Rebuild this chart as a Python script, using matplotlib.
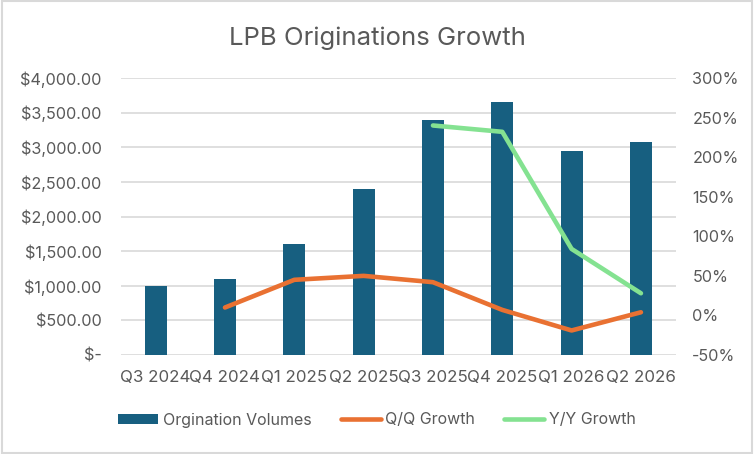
import matplotlib.pyplot as plt
from matplotlib.ticker import FuncFormatter, MultipleLocator
from matplotlib.patches import Rectangle
import numpy as np

quarters = ['Q3 2024', 'Q4 2024', 'Q1 2025', 'Q2 2025', 'Q3 2025', 'Q4 2025', 'Q1 2026', 'Q2 2026']
volumes = [1000, 1100, 1600, 2400, 3400, 3650, 2950, 3080]
qq_growth = [np.nan, 0.10, 0.45, 0.50, 0.42, 0.07, -0.19, 0.04]
yy_growth = [np.nan, np.nan, np.nan, np.nan, 2.40, 2.32, 0.84, 0.28]

bar_color = '#175F80'
qq_color = '#E97132'
yy_color = '#84E291'
text_color = '#595959'
grid_color = '#D9D9D9'

plt.rcParams['font.family'] = ['Inter', 'DejaVu Sans']

fig = plt.figure(figsize=(7.54, 4.54), dpi=100)
ax = fig.add_axes([121 / 754, 1 - 355 / 454, (675.6 - 121) / 754, (355 - 78) / 454])
x = np.arange(len(quarters))

ax.bar(x, volumes, width=0.32, color=bar_color, label='Orgination Volumes', zorder=2)
ax.set_ylim(0, 4000)
ax.set_xlim(-0.5, len(quarters) - 0.5)
ax.yaxis.set_major_locator(MultipleLocator(500))
ax.yaxis.set_major_formatter(FuncFormatter(lambda v, p: '$-' if v == 0 else '${:,.2f}'.format(v)))
ax.grid(axis='y', color=grid_color, linewidth=1.2, zorder=0)
ax.set_axisbelow(True)
ax.set_xticks(x)
ax.set_xticklabels(quarters)
for s in ax.spines.values():
    s.set_visible(False)
ax.tick_params(length=0, colors=text_color, labelsize=11.7)
ax.tick_params(axis='y', pad=14)
ax.tick_params(axis='x', pad=11, labelsize=12.2)

ax2 = ax.twinx()
l1, = ax2.plot(x, qq_growth, color=qq_color, linewidth=3.3, solid_capstyle='round', label='Q/Q Growth')
l2, = ax2.plot(x, yy_growth, color=yy_color, linewidth=3.3, solid_capstyle='round', label='Y/Y Growth')
ax2.set_ylim(-0.5, 3.0)
ax2.yaxis.set_major_locator(MultipleLocator(0.5))
ax2.yaxis.set_major_formatter(FuncFormatter(lambda v, p: '{:.0f}%'.format(v * 100)))
for s in ax2.spines.values():
    s.set_visible(False)
ax2.tick_params(length=0, colors=text_color, labelsize=11.7, pad=12)

fig.text(0.5, 1 - 38 / 454, 'LPB Originations Growth', ha='center', va='center', fontsize=18.5, color=text_color)

handles = [ax.containers[0], l1, l2]
fig.legend(handles, [h.get_label() for h in handles], loc='center', bbox_to_anchor=(0.5, 1 - 420 / 454),
           ncol=3, frameon=False, fontsize=11.5, labelcolor=text_color, handlelength=2.5,
           handleheight=0.6, handletextpad=0.3, columnspacing=1.8)

fig.patches.append(Rectangle((0.002, 0.003), 0.995, 0.994, transform=fig.transFigure,
                             fill=False, edgecolor=grid_color, linewidth=1.5))

fig.savefig('out.png', dpi=100)
